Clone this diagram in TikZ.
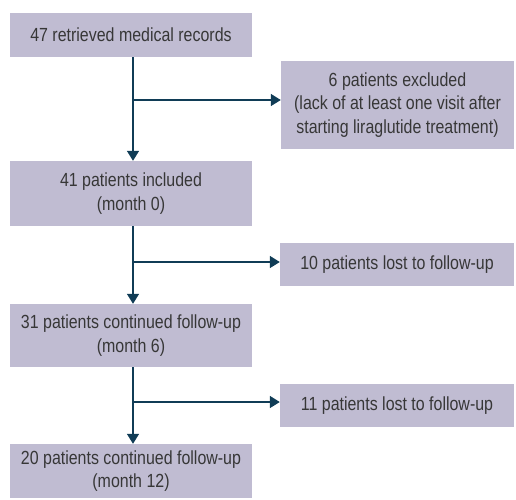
\documentclass[tikz,border=0pt]{standalone}
\usepackage{fontspec}
\setmainfont[FakeStretch=0.84]{Liberation Sans}
\usetikzlibrary{arrows.meta}
\definecolor{boxfill}{RGB}{192,188,210}
\definecolor{flowline}{RGB}{16,60,86}
\definecolor{boxtext}{RGB}{55,55,55}
\begin{document}
\begin{tikzpicture}[x=1pt, y=-1pt,
    box/.style={fill=boxfill, text=boxtext, align=center, inner sep=0pt,
        font=\fontsize{19}{23.5}\selectfont},
    flow/.style={flowline, line width=1.5pt, -{Triangle[length=10pt,width=12pt]}}]
    \useasboundingbox (0,0) rectangle (516,499);

    % Main column
    \node[box, minimum width=242pt, minimum height=44pt] (records) at (131,35) {47 retrieved medical records};
    \node[box, minimum width=242pt, minimum height=65pt] (included) at (131,193.5) {41 patients included\\(month 0)};
    \node[box, minimum width=242pt, minimum height=63pt] (month6) at (131,335.5) {31 patients continued follow-up\\(month 6)};
    \node[box, minimum width=242pt, minimum height=54pt] (month12) at (131,471) {20 patients continued follow-up\\(month 12)};

    % Side boxes
    \node[box, minimum width=233pt, minimum height=88pt] (excluded) at (397.5,105) {6 patients excluded\\(lack of at least one visit after\\starting liraglutide treatment)};
    \node[box, minimum width=234pt, minimum height=43pt] (lost1) at (397,264.5) {10 patients lost to follow-up};
    \node[box, minimum width=234pt, minimum height=43pt] (lost2) at (397,405.5) {11 patients lost to follow-up};

    % Branch points on the vertical line
    \coordinate (b1) at (133,100);
    \coordinate (b2) at (133,262);
    \coordinate (b3) at (133,402);

    % Vertical arrows
    \draw[flow] (records.south -| b1) -- (included.north -| b1);
    \draw[flow] (included.south -| b2) -- (month6.north -| b2);
    \draw[flow] (month6.south -| b3) -- (month12.north -| b3);

    % Side arrows
    \draw[flow] (b1) -- (b1 -| excluded.west);
    \draw[flow] (b2) -- (b2 -| lost1.west);
    \draw[flow] (b3) -- (b3 -| lost2.west);
\end{tikzpicture}
\end{document}
